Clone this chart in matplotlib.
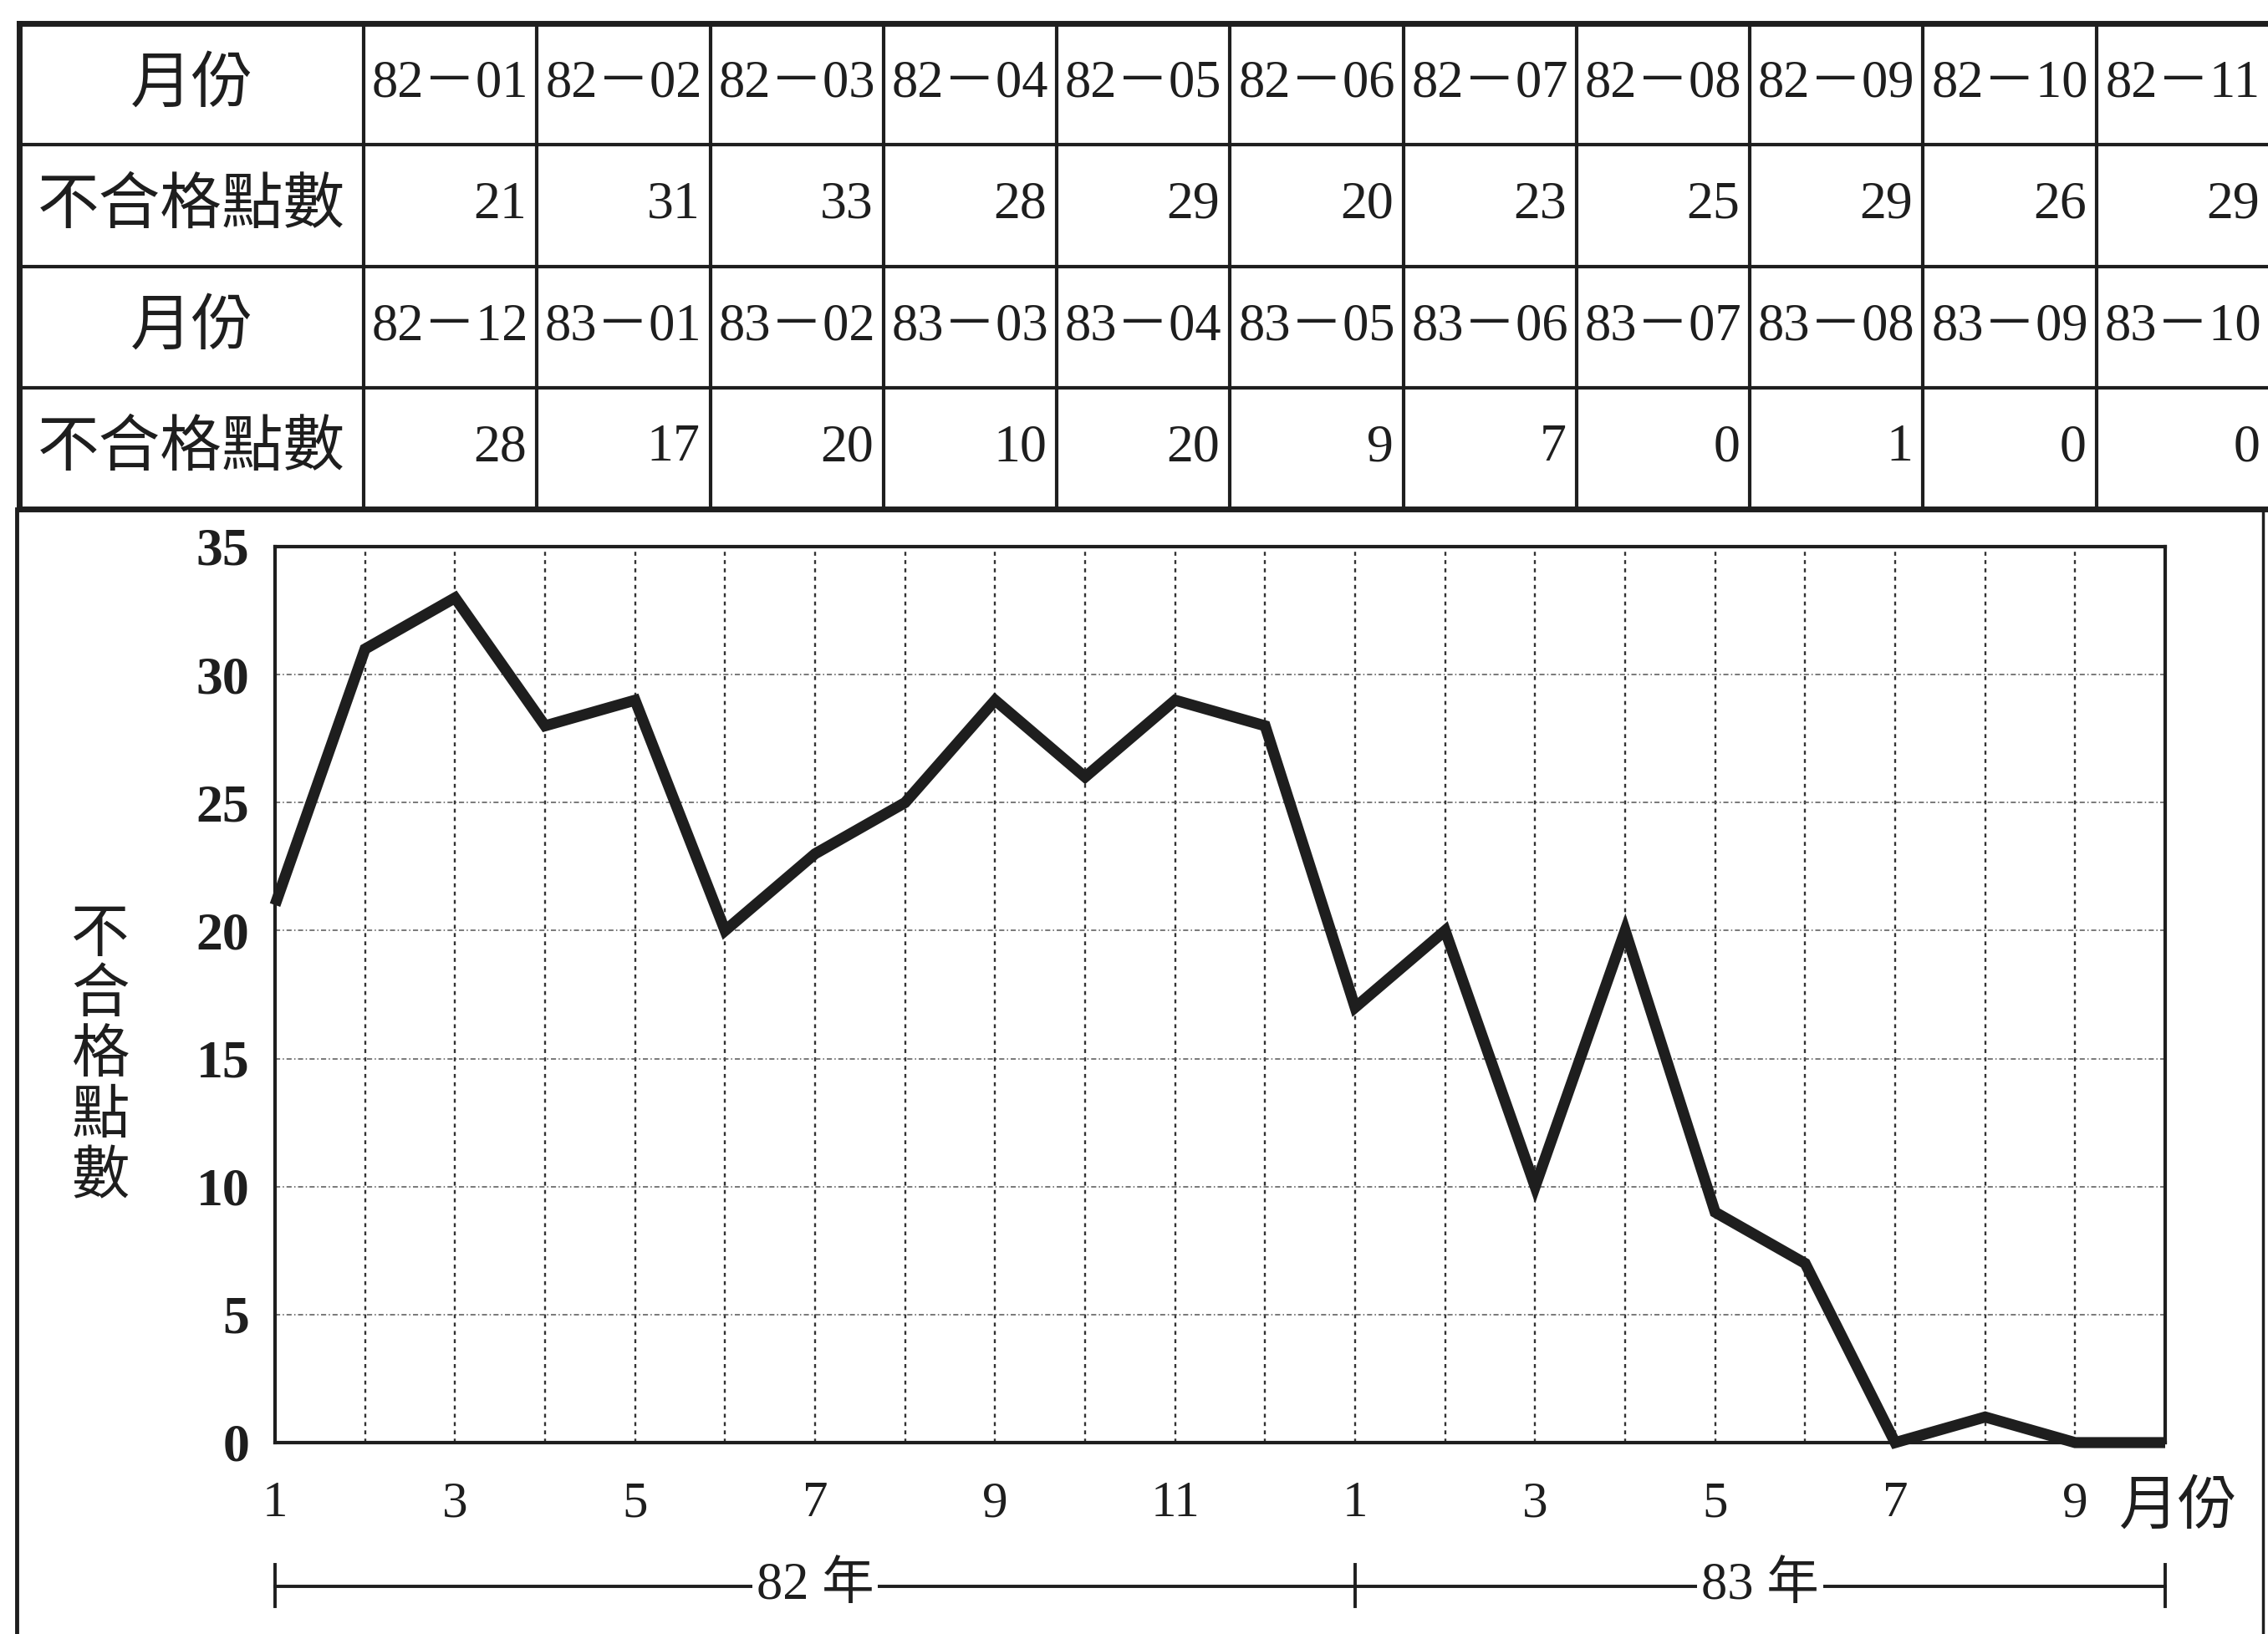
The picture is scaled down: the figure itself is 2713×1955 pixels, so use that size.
import matplotlib
matplotlib.use("Agg")
import matplotlib.pyplot as plt
from matplotlib.transforms import blended_transform_factory

# ---------------- data ----------------
months_row1 = ["82－01", "82－02", "82－03", "82－04", "82－05", "82－06",
               "82－07", "82－08", "82－09", "82－10", "82－11"]
counts_row1 = [21, 31, 33, 28, 29, 20, 23, 25, 29, 26, 29]
months_row2 = ["82－12", "83－01", "83－02", "83－03", "83－04", "83－05",
               "83－06", "83－07", "83－08", "83－09", "83－10"]
counts_row2 = [28, 17, 20, 10, 20, 9, 7, 0, 1, 0, 0]
row_label_month = "月份"
row_label_count = "不合格點數"
xtick_labels = ["1", "3", "5", "7", "9", "11", "1", "3", "5", "7", "9"]
yticks = [0, 5, 10, 15, 20, 25, 30, 35]
year_labels = ["82 年", "83 年"]

counts = counts_row1 + counts_row2
xpos = list(range(1, len(counts) + 1))

# ---------------- figure ----------------
W, H = 2713, 1955
DPI = 100
fig = plt.figure(figsize=(W / DPI, H / DPI), dpi=DPI, facecolor="white")

SERIF = ["Liberation Serif", "Noto Sans CJK TC"]
CJK = ["Noto Sans CJK TC", "Liberation Serif"]
INK = "#1e1e1e"

# ---- overlay axes in pixel coordinates for the table & frame ----
ov = fig.add_axes([0, 0, 1, 1], zorder=0)
ov.set_xlim(0, W)
ov.set_ylim(H, 0)
ov.axis("off")

tab_left, tab_top, tab_bottom = 23, 28, 609
first_col_right = 435
col_w = (2715 - first_col_right) / 11
row_edges = [tab_top + i * (tab_bottom - tab_top) / 4 for i in range(5)]
col_edges = [tab_left, first_col_right] + [first_col_right + (i + 1) * col_w for i in range(11)]

# inner lines
for y in row_edges[1:-1]:
    ov.plot([tab_left, W + 10], [y, y], color=INK, lw=3.0, clip_on=False)
for x in col_edges[1:-1]:
    ov.plot([x, x], [tab_top, tab_bottom], color=INK, lw=3.0, clip_on=False)
# outer border (thick)
ov.plot([tab_left, W + 10], [tab_top, tab_top], color=INK, lw=5, clip_on=False)
ov.plot([tab_left, W + 10], [tab_bottom, tab_bottom], color=INK, lw=5, clip_on=False)
ov.plot([tab_left, tab_left], [tab_top, tab_bottom], color=INK, lw=5, clip_on=False)
# chart frame below the table
ov.plot([20, 20], [tab_bottom, H + 10], color=INK, lw=3.5, clip_on=False)
ov.plot([2707, 2707], [tab_bottom, H + 10], color=INK, lw=2.5, clip_on=False)

rows = [
    (row_label_month, months_row1, "month"),
    (row_label_count, counts_row1, "count"),
    (row_label_month, months_row2, "month"),
    (row_label_count, counts_row2, "count"),
]
for r, (lab, vals, kind) in enumerate(rows):
    yc = (row_edges[r] + row_edges[r + 1]) / 2
    ov.text((col_edges[0] + col_edges[1]) / 2, yc, lab, family=CJK,
            fontsize=53, ha="center", va="center", color=INK)
    for c, v in enumerate(vals):
        x0, x1 = col_edges[c + 1], col_edges[c + 2]
        if kind == "month":
            ov.text((x0 + x1) / 2, yc, v, family=SERIF, fontsize=45,
                    ha="center", va="center", color=INK, clip_on=False)
        else:
            ov.text(x1 - 12, yc, str(v), family=SERIF, fontsize=46,
                    ha="right", va="center", color=INK, clip_on=False)

# ---------------- chart ----------------
ax = fig.add_axes([329 / W, 1 - 1726 / H, (2590 - 329) / W, (1726 - 654) / H], zorder=2)
ax.set_facecolor("none")
ax.set_xlim(1, 22)
ax.set_ylim(0, 35)

# grid
for m in range(2, 22):
    ax.axvline(m, color="#333333", lw=1.7, ls=(0, (2.0, 2.2)), zorder=1)
for yv in yticks[1:-1]:
    ax.axhline(yv, color="#555555", lw=1.1, ls=(0, (4, 2, 1, 2)), zorder=1)

ax.plot(xpos, counts, color=INK, lw=9.5, solid_joinstyle="miter",
        solid_capstyle="butt", zorder=3, clip_on=False)

for s in ax.spines.values():
    s.set_linewidth(3.0)
    s.set_color(INK)
    s.set_zorder(4)

ax.set_yticks(yticks)
ax.set_yticklabels([str(v) for v in yticks], family="Liberation Serif",
                   fontweight="bold", fontsize=46, color=INK)
ax.set_xticks(list(range(1, 22, 2)))
ax.set_xticklabels(xtick_labels, family="Liberation Serif", fontsize=44, color=INK)
ax.tick_params(axis="y", length=0, pad=22)
ax.tick_params(axis="x", length=0, pad=33)

# y label stacked vertically
fig.text(120 / W, 1 - 1263 / H, "\n".join(row_label_count), family=CJK,
         fontsize=50, ha="center", va="center", linespacing=1.02, color=INK)

# x unit label
tb = blended_transform_factory(ax.transData, fig.transFigure)
ax.text(22.15, 1 - 1802 / H, row_label_month, transform=tb, family=CJK,
        fontsize=51, ha="center", va="center", color=INK, clip_on=False)

# year brackets
ybr = 1 - 1898 / H
ax.plot([1, 22], [ybr, ybr], transform=tb, color=INK, lw=2.8, clip_on=False)
for m in (1, 13, 22):
    ax.plot([m, m], [1 - 1872 / H, 1 - 1922 / H], transform=tb, color=INK,
            lw=2.8, clip_on=False)
for (a, b), lab in zip([(1, 13), (13, 22)], year_labels):
    ax.text((a + b) / 2, ybr, lab, transform=tb, family=SERIF, fontsize=45,
            ha="center", va="center", color=INK, clip_on=False,
            bbox=dict(boxstyle="square,pad=0.08", fc="white", ec="none"))

fig.savefig("out.png", dpi=DPI, facecolor="white")
